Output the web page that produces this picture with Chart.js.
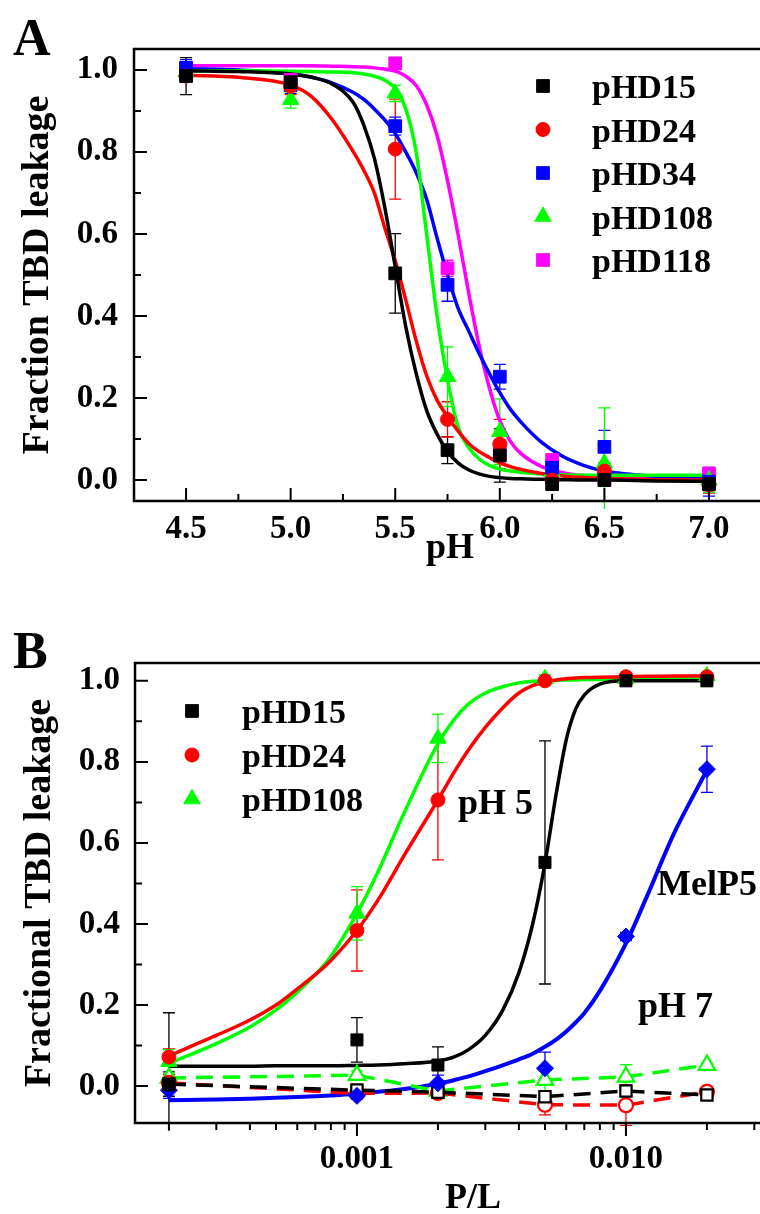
<!DOCTYPE html>
<html>
<head>
<meta charset="utf-8">
<script src="https://cdn.jsdelivr.net/npm/chart.js@4.4.1/dist/chart.umd.min.js"></script>
<style>
  html, body { margin: 0; padding: 0; background: #fff; overflow: hidden; }
  #wrapA { position: absolute; left: 0; top: 0; width: 760px; height: 600px; }
  #wrapB { position: absolute; left: 0; top: 600px; width: 760px; height: 614px; }
</style>
</head>
<body>
<div id="wrapA"><canvas id="panelA" width="760" height="600"></canvas></div>
<div id="wrapB"><canvas id="panelB" width="760" height="614"></canvas></div>
<script>
// ::::: PANEL A data : leakage vs pH :::::
const phA = [4.5, 5.0, 5.5, 5.75, 6.0, 6.25, 6.5, 7.0];
const a15 = [0.985, 0.97, 0.504, 0.073, 0.06, -0.01, 0.0, -0.01];
const a15Err = [0.045, 0.015, 0.097, 0.033, 0.065, 0.01, 0.01, 0.02];
const a24 = [0.985, 0.96, 0.807, 0.148, 0.088, 0.0, 0.022, -0.012];
const a24Err = [0.01, 0.02, 0.122, 0.043, 0.06, 0.02, 0.02, 0.02];
const a34 = [1.005, 0.963, 0.863, 0.476, 0.252, 0.03, 0.081, -0.004];
const a34Err = [0.02, 0.02, 0.022, 0.04, 0.03, 0.01, 0.04, 0.035];
const a108 = [0.995, 0.927, 0.943, 0.252, 0.118, 0.02, 0.041, 0.0];
const a108Err = [0.01, 0.02, 0.02, 0.073, 0.08, 0.02, 0.135, 0.03];
const a118 = [1.005, 0.976, 1.016, 0.516, 0.065, 0.049, 0.005, 0.016];
const a118Err = [0.01, 0.01, 0.005, 0.02, 0.02, 0.01, 0.02, 0.01];

// fitted curves
const fitPH = [4.5, 4.75, 5.0, 5.1, 5.2, 5.3, 5.35, 5.4, 5.45, 5.5, 5.55, 5.6, 5.65, 5.7,
               5.75, 5.8, 5.85, 5.9, 5.95, 6.0, 6.05, 6.1, 6.2, 6.3, 6.4, 6.5, 6.75, 7.0];
const fitA15 = [0.998, 0.996, 0.99, 0.982, 0.965, 0.92, 0.865, 0.785, 0.665, 0.52, 0.375, 0.26, 0.17, 0.112,
                0.07, 0.042, 0.025, 0.015, 0.009, 0.006, 0.004, 0.003, 0.002, 0.001, 0.0, 0.0, -0.002, -0.003];
const fitA24 = [0.987, 0.982, 0.963, 0.935, 0.878, 0.80, 0.755, 0.70, 0.615, 0.535, 0.44, 0.34, 0.255, 0.195,
                0.155, 0.12, 0.09, 0.07, 0.055, 0.042, 0.033, 0.026, 0.016, 0.01, 0.006, 0.004, 0.001, 0.0];
const fitA34 = [1.003, 1.0, 0.99, 0.982, 0.968, 0.945, 0.928, 0.905, 0.878, 0.845, 0.80, 0.75, 0.685, 0.59,
                0.50, 0.42, 0.365, 0.31, 0.26, 0.213, 0.173, 0.142, 0.092, 0.058, 0.036, 0.022, 0.009, 0.005];
const fitA108 = [0.998, 0.998, 0.997, 0.996, 0.995, 0.993, 0.99, 0.985, 0.975, 0.955, 0.905, 0.80, 0.60, 0.40,
                 0.245, 0.13, 0.08, 0.052, 0.036, 0.027, 0.022, 0.019, 0.015, 0.013, 0.012, 0.012, 0.012, 0.012];
const fitA118 = [1.01, 1.01, 1.01, 1.01, 1.009, 1.008, 1.007, 1.005, 1.002, 0.997, 0.985, 0.962, 0.915, 0.84,
                 0.73, 0.60, 0.46, 0.33, 0.225, 0.145, 0.095, 0.065, 0.033, 0.018, 0.011, 0.008, 0.006, 0.005];

// ::::: PANEL B data : leakage vs P/L :::::
const plB = [0.0002, 0.001, 0.002, 0.005, 0.01, 0.02];
// pH 5, filled symbols
const b15 = [0.003, 0.114, 0.052, 0.552, 1.0, 1.0];
const b15Err = [0.178, 0.055, 0.045, 0.30, 0.005, 0.005];
const b24 = [0.072, 0.384, 0.706, 1.0, 1.01, 1.01];
const b24Err = [0.02, 0.1, 0.148, 0.01, 0.005, 0.005];
const b108 = [0.06, 0.426, 0.858, 1.005, 1.005, 1.012];
const b108Err = [0.03, 0.066, 0.06, 0.01, 0.005, 0.005];
// MelP5, pH 7
const melp5 = [-0.01, -0.024, 0.007, 0.044, 0.369, 0.782];
const melp5Err = [0.02, 0.008, 0.02, 0.04, 0.01, 0.057];
// pH 7, open symbols
const o15 = [0.005, -0.01, -0.015, -0.026, -0.012, -0.022];
const o15Err = [0.03, 0.015, 0.01, 0.015, 0.01, 0.01];
const o24 = [0.008, -0.018, -0.017, -0.046, -0.047, -0.014];
const o24Err = [0.02, 0.01, 0.01, 0.025, 0.05, 0.01];
const o108 = [0.02, 0.027, -0.012, 0.015, 0.023, 0.052];
const o108Err = [0.035, 0.01, 0.01, 0.03, 0.03, 0.005];

const fitPL = [0.0002, 0.0003, 0.0004, 0.0005, 0.0006, 0.0007, 0.0008, 0.001, 0.0012, 0.0015, 0.002, 0.0023, 0.0026,
               0.003, 0.0035, 0.004, 0.0045, 0.005, 0.0055, 0.006, 0.0065, 0.007, 0.008, 0.01, 0.012, 0.015, 0.02];
const fitB15 = [0.049, 0.049, 0.049, 0.05, 0.05, 0.05, 0.05, 0.051, 0.052, 0.055, 0.062, 0.072, 0.09,
                0.125, 0.19, 0.28, 0.40, 0.55, 0.72, 0.855, 0.93, 0.965, 0.992, 1.0, 1.0, 1.0, 1.0];
const fitB24 = [0.075, 0.125, 0.163, 0.2, 0.24, 0.275, 0.31, 0.384, 0.46, 0.57, 0.706, 0.775, 0.83,
                0.885, 0.935, 0.97, 0.988, 0.998, 1.002, 1.005, 1.007, 1.008, 1.009, 1.01, 1.011, 1.012, 1.012];
const fitB108 = [0.056, 0.105, 0.146, 0.188, 0.232, 0.275, 0.32, 0.426, 0.53, 0.675, 0.845, 0.905, 0.943,
                 0.97, 0.986, 0.995, 0.999, 1.0, 1.001, 1.002, 1.002, 1.003, 1.003, 1.004, 1.004, 1.005, 1.005];
const fitMel = [-0.035, -0.033, -0.031, -0.029, -0.027, -0.025, -0.023, -0.019, -0.014, -0.007, 0.006, 0.015, 0.024,
                0.037, 0.052, 0.066, 0.08, 0.097, 0.115, 0.135, 0.157, 0.18, 0.235, 0.352, 0.47, 0.62, 0.78];

// ::::: tick marks :::::
const xMajorA = [4.5, 5.0, 5.5, 6.0, 6.5, 7.0];
const xMinorA = [4.75, 5.25, 5.75, 6.25, 6.75];
const yMajor = [0.0, 0.2, 0.4, 0.6, 0.8, 1.0];
const yMinor = [0.1, 0.3, 0.5, 0.7, 0.9];
const xMajorB = [0.001, 0.01];
const xMinorB = [0.0002, 0.0003, 0.0004, 0.0005, 0.0006, 0.0007, 0.0008, 0.0009,
                 0.002, 0.003, 0.004, 0.005, 0.006, 0.007, 0.008, 0.009, 0.02, 0.03];

const SERIF = "'Liberation Serif', 'Times New Roman', serif";
Chart.defaults.font.family = SERIF;
Chart.defaults.color = '#000';

const BLACK = '#000000', RED = '#ff0000', BLUE = '#0000ff', GREEN = '#00ff00', MAGENTA = '#ff00ff';

function pts(xs, ys) {
    return xs.map((x, i) => ({ x: x, y: ys[i] }));
}

function markers(label, xs, ys, errs, color, style, radius, open) {
    return {
        label: label,
        data: pts(xs, ys),
        errors: errs,
        pointStyle: style,
        pointRadius: radius,
        backgroundColor: open ? '#ffffff' : color,
        borderColor: color,
        pointBorderWidth: open ? 2.2 : 1,
        order: 1
    };
}

function curve(xs, ys, color, width) {
    return {
        data: pts(xs, ys),
        showLine: true,
        pointRadius: 0,
        borderColor: color,
        borderWidth: width,
        cubicInterpolationMode: 'monotone',
        fill: false,
        order: 2
    };
}

// fixed axis sizes, and no extra padding from the tick labels
function fixWidth(w) {
    return s => { s.width = w; s.paddingTop = 0; s.paddingBottom = 0; s.paddingLeft = 0; s.paddingRight = 0; };
}
function fixHeight(h) {
    return s => { s.height = h; s.paddingTop = 0; s.paddingBottom = 0; s.paddingLeft = 0; s.paddingRight = 0; };
}

// error bars drawn from the scales, under the symbols
const errorBars = {
    id: 'errorBars',
    beforeDatasetsDraw(chart) {
        const { ctx, chartArea: a } = chart;
        const xs = chart.scales.x, ys = chart.scales.y;
        ctx.save();
        ctx.beginPath();
        ctx.rect(a.left, a.top, a.right - a.left, a.bottom - a.top + 8);
        ctx.clip();
        chart.data.datasets.forEach(ds => {
            if (!ds.errors) return;
            ctx.strokeStyle = ds.borderColor;
            ctx.lineWidth = 1.3;
            ds.data.forEach((p, j) => {
                const e = ds.errors[j];
                if (!e) return;
                const x = xs.getPixelForValue(p.x);
                const y1 = ys.getPixelForValue(p.y - e);
                const y2 = ys.getPixelForValue(p.y + e);
                ctx.beginPath();
                ctx.moveTo(x, y1); ctx.lineTo(x, y2);
                ctx.moveTo(x - 6, y1); ctx.lineTo(x + 6, y1);
                ctx.moveTo(x - 6, y2); ctx.lineTo(x + 6, y2);
                ctx.stroke();
            });
        });
        ctx.restore();
    }
};

// axis box with inward / outward tick marks
function framePlugin(cfg) {
    return {
        id: 'frame',
        afterDraw(chart) {
            const { ctx, chartArea: a } = chart;
            const sx = chart.scales.x, sy = chart.scales.y;
            ctx.save();
            ctx.strokeStyle = '#000';
            ctx.lineWidth = 2.5;
            ctx.beginPath();
            ctx.moveTo(a.right + 5, a.top);
            ctx.lineTo(a.left, a.top);
            ctx.lineTo(a.left, a.bottom);
            ctx.lineTo(a.right + 5, a.bottom);
            ctx.stroke();
            ctx.lineWidth = 2;
            ctx.beginPath();
            cfg.xMajor.forEach(v => { const p = sx.getPixelForValue(v); ctx.moveTo(p, a.bottom); ctx.lineTo(p, a.bottom + cfg.xDir * 13); });
            cfg.xMinor.forEach(v => { const p = sx.getPixelForValue(v); ctx.moveTo(p, a.bottom); ctx.lineTo(p, a.bottom + cfg.xDir * 7); });
            yMajor.forEach(v => { const p = sy.getPixelForValue(v); ctx.moveTo(a.left, p); ctx.lineTo(a.left + 13, p); });
            yMinor.forEach(v => { const p = sy.getPixelForValue(v); ctx.moveTo(a.left, p); ctx.lineTo(a.left + 7, p); });
            ctx.stroke();
            ctx.restore();
        }
    };
}

// legend boxes + free labels
function notesPlugin(legend, texts) {
    return {
        id: 'notes',
        afterDraw(chart) {
            const ctx = chart.ctx;
            ctx.save();
            legend.items.forEach((it, i) => {
                const y = legend.y + i * legend.dy;
                ctx.fillStyle = it.color;
                ctx.strokeStyle = it.color;
                Chart.helpers.drawPoint(ctx, { pointStyle: it.style, radius: it.radius, rotation: 0, borderWidth: 1 }, legend.x, y);
                ctx.fillStyle = '#000';
                ctx.font = 'bold 34px ' + SERIF;
                ctx.textAlign = 'left';
                ctx.textBaseline = 'alphabetic';
                ctx.fillText(it.label, legend.textX, y + 12);
            });
            texts.forEach(t => {
                ctx.fillStyle = '#000';
                ctx.font = 'bold ' + t.size + 'px ' + SERIF;
                ctx.textAlign = t.align || 'left';
                ctx.textBaseline = 'alphabetic';
                ctx.fillText(t.text, t.x, t.y);
            });
            ctx.restore();
        }
    };
}

function baseOptions() {
    return {
        responsive: false,
        animation: false,
        events: [],
        plugins: { legend: { display: false }, tooltip: { enabled: false } },
        layout: { autoPadding: false, padding: { left: 0, right: 0, bottom: 0 } }
    };
}

// ::::: PANEL A :::::
const optsA = baseOptions();
optsA.layout.padding.top = 49;
optsA.scales = {
    x: {
        type: 'linear', min: 4.251, max: 7.244,
        afterFit: fixHeight(99),
        grid: { display: false, drawTicks: false }, border: { display: false },
        ticks: { stepSize: 0.5, includeBounds: false, padding: 9, autoSkip: false, maxRotation: 0,
                 font: { size: 33, weight: 'bold' }, color: '#000', callback: v => v.toFixed(1) }
    },
    y: {
        min: -0.051, max: 1.051,
        afterFit: fixWidth(134),
        grid: { display: false, drawTicks: false }, border: { display: false },
        ticks: { stepSize: 0.2, includeBounds: false, padding: 16,
                 font: { size: 33, weight: 'bold' }, color: '#000', callback: v => v.toFixed(1) },
        title: { display: true, text: 'Fraction TBD leakage', color: '#000',
                 font: { size: 38, weight: 'bold' }, padding: { top: 15, bottom: 0 } }
    }
};

new Chart(document.getElementById('panelA'), {
    type: 'scatter',
    data: {
        datasets: [
            markers('pHD15', phA, a15, a15Err, BLACK, 'rect', 9),
            markers('pHD24', phA, a24, a24Err, RED, 'circle', 7),
            markers('pHD34', phA, a34, a34Err, BLUE, 'rect', 9),
            markers('pHD108', phA, a108, a108Err, GREEN, 'triangle', 9.5),
            markers('pHD118', phA, a118, a118Err, MAGENTA, 'rect', 9),
            curve(fitPH, fitA15, BLACK, 3.5),
            curve(fitPH, fitA24, RED, 3.5),
            curve(fitPH, fitA108, GREEN, 3.5),
            curve(fitPH, fitA34, BLUE, 3.5),
            curve(fitPH, fitA118, MAGENTA, 3.5)
        ]
    },
    options: optsA,
    plugins: [
        errorBars,
        framePlugin({ xMajor: xMajorA, xMinor: xMinorA, xDir: -1 }),
        notesPlugin({
            x: 543, y: 86, dy: 43.5, textX: 592,
            items: [
                { label: 'pHD15', color: BLACK, style: 'rect', radius: 9 },
                { label: 'pHD24', color: RED, style: 'circle', radius: 7 },
                { label: 'pHD34', color: BLUE, style: 'rect', radius: 9 },
                { label: 'pHD108', color: GREEN, style: 'triangle', radius: 9.5 },
                { label: 'pHD118', color: MAGENTA, style: 'rect', radius: 9 }
            ]
        }, [
            { text: 'A', x: 13, y: 55, size: 52 },
            { text: 'pH', x: 450, y: 558, size: 36, align: 'center' }
        ])
    ]
});

// ::::: PANEL B :::::
const optsB = baseOptions();
optsB.layout.padding.top = 63;
optsB.scales = {
    x: {
        type: 'logarithmic', min: 0.0001496, max: 0.0315,
        afterFit: fixHeight(91),
        grid: { display: false, drawTicks: false }, border: { display: false },
        ticks: { padding: 17, autoSkip: false, maxRotation: 0,
                 font: { size: 33, weight: 'bold' }, color: '#000',
                 callback: v => (Math.abs(v / 0.001 - 1) < 1e-6 ? '0.001' : (Math.abs(v / 0.01 - 1) < 1e-6 ? '0.010' : '')) }
    },
    y: {
        min: -0.091, max: 1.044,
        afterFit: fixWidth(135),
        grid: { display: false, drawTicks: false }, border: { display: false },
        ticks: { stepSize: 0.2, includeBounds: false, padding: 15,
                 font: { size: 33, weight: 'bold' }, color: '#000', callback: v => v.toFixed(1) },
        title: { display: true, text: 'Fractional TBD leakage', color: '#000',
                 font: { size: 38, weight: 'bold' }, padding: { top: 17, bottom: 0 } }
    }
};

function dashed(label, ys, errs, color, style, radius) {
    const ds = markers(label, plB, ys, errs, color, style, radius, true);
    ds.showLine = true;
    ds.borderWidth = 3.5;
    ds.borderDash = [17, 10];
    ds.tension = 0;
    return ds;
}

new Chart(document.getElementById('panelB'), {
    type: 'scatter',
    data: {
        datasets: [
            markers('pHD15', plB, b15, b15Err, BLACK, 'rect', 8.5),
            markers('pHD24', plB, b24, b24Err, RED, 'circle', 7),
            markers('pHD108', plB, b108, b108Err, GREEN, 'triangle', 9.5),
            markers('MelP5', plB, melp5, melp5Err, BLUE, 'rectRot', 8.5),
            dashed('pHD15 pH 7', o15, o15Err, BLACK, 'rect', 8),
            dashed('pHD24 pH 7', o24, o24Err, RED, 'circle', 7),
            dashed('pHD108 pH 7', o108, o108Err, GREEN, 'triangle', 9.5),
            curve(fitPL, fitB15, BLACK, 3.5),
            curve(fitPL, fitMel, BLUE, 4),
            curve(fitPL, fitB24, RED, 3.5),
            curve(fitPL, fitB108, GREEN, 3.5)
        ]
    },
    options: optsB,
    plugins: [
        errorBars,
        framePlugin({ xMajor: xMajorB, xMinor: xMinorB, xDir: 1 }),
        notesPlugin({
            x: 192, y: 111, dy: 44, textX: 242,
            items: [
                { label: 'pHD15', color: BLACK, style: 'rect', radius: 9 },
                { label: 'pHD24', color: RED, style: 'circle', radius: 7 },
                { label: 'pHD108', color: GREEN, style: 'triangle', radius: 9.5 }
            ]
        }, [
            { text: 'B', x: 13, y: 68, size: 52 },
            { text: 'pH 5', x: 458, y: 214, size: 36 },
            { text: 'MelP5', x: 657, y: 295, size: 36 },
            { text: 'pH 7', x: 638, y: 417, size: 36 },
            { text: 'P/L', x: 473, y: 608, size: 36, align: 'center' }
        ])
    ]
});
</script>
</body>
</html>
